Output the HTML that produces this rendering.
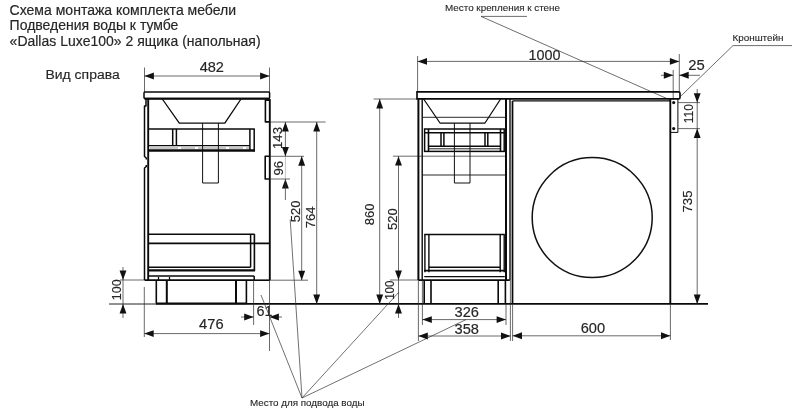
<!DOCTYPE html>
<html><head><meta charset="utf-8"><title>Схема монтажа</title>
<style>
html,body{margin:0;padding:0;background:#fff;}
svg{display:block;font-family:"Liberation Sans",sans-serif;filter:grayscale(1);}
</style></head><body>
<svg width="800" height="412" viewBox="0 0 800 412">
<rect width="800" height="412" fill="#fff"/>
<text x="9.6" y="14.6" font-size="14" fill="#262626" stroke="#262626" stroke-width="0.17" textLength="226.5" lengthAdjust="spacingAndGlyphs">Схема монтажа комплекта мебели</text>
<text x="9.6" y="30.3" font-size="14" fill="#262626" stroke="#262626" stroke-width="0.17" textLength="168.8" lengthAdjust="spacingAndGlyphs">Подведения воды к тумбе</text>
<text x="9.6" y="46" font-size="14" fill="#262626" stroke="#262626" stroke-width="0.17" textLength="251" lengthAdjust="spacingAndGlyphs">«Dallas Luxe100» 2 ящика (напольная)</text>
<text x="45.5" y="79.1" font-size="13.7" fill="#262626" stroke="#262626" stroke-width="0.16" textLength="74.2" lengthAdjust="spacingAndGlyphs">Вид справа</text>
<line x1="144.5" y1="67.5" x2="144.5" y2="92" stroke="#303030" stroke-width="0.72"/>
<line x1="269.5" y1="67.5" x2="269.5" y2="92" stroke="#303030" stroke-width="0.72"/>
<line x1="144.5" y1="76" x2="269.5" y2="76" stroke="#303030" stroke-width="0.72"/>
<polygon points="144.5,76 153.9,72.55 153.9,79.45" fill="#111"/>
<polygon points="269.5,76 260.1,72.55 260.1,79.45" fill="#111"/>
<text x="211.8" y="72" font-size="14.1" fill="#262626" stroke="#262626" stroke-width="0.17" text-anchor="middle" textLength="24.3" lengthAdjust="spacingAndGlyphs">482</text>
<rect x="144" y="92" width="125.6" height="6.6" rx="1" fill="none" stroke="#0a0a0a" stroke-width="1.5"/>
<line x1="144.5" y1="98.7" x2="269.6" y2="98.7" stroke="#0a0a0a" stroke-width="2.0"/>
<line x1="148.2" y1="99" x2="148.2" y2="280" stroke="#0a0a0a" stroke-width="1.9"/>
<polyline points="146,99 146,106 144.5,106 144.5,156.5 146.3,158 146.3,159.5" fill="none" stroke="#0a0a0a" stroke-width="1.5" stroke-linejoin="round"/>
<polyline points="146.3,165 146.3,166.5 144.5,168 144.5,280" fill="none" stroke="#0a0a0a" stroke-width="1.5" stroke-linejoin="round"/>
<line x1="269.8" y1="99" x2="269.8" y2="280.3" stroke="#0a0a0a" stroke-width="1.88"/>
<polyline points="269.8,100.1 265.4,100.1 265.4,121.9 269.8,121.9" fill="none" stroke="#0a0a0a" stroke-width="1.6" stroke-linejoin="round"/>
<polyline points="269.8,156.3 265.2,156.3 265.2,179 269.8,179" fill="none" stroke="#0a0a0a" stroke-width="1.6" stroke-linejoin="round"/>
<polyline points="162.3,99 179.3,123.1 224.8,123.1 241,99" fill="none" stroke="#0a0a0a" stroke-width="1.3" stroke-linejoin="round"/>
<polyline points="202.6,123 202.6,183 218.4,183 218.4,123" fill="none" stroke="#111" stroke-width="1.0" stroke-linejoin="round"/>
<line x1="148.3" y1="129" x2="254.8" y2="129" stroke="#0a0a0a" stroke-width="1.7"/>
<line x1="249.9" y1="129" x2="249.9" y2="150" stroke="#0a0a0a" stroke-width="1.5"/>
<line x1="254.2" y1="129" x2="254.2" y2="151.4" stroke="#0a0a0a" stroke-width="1.5"/>
<line x1="172.7" y1="129" x2="172.7" y2="145.8" stroke="#0a0a0a" stroke-width="1.5"/>
<line x1="176.4" y1="129" x2="176.4" y2="145.8" stroke="#0a0a0a" stroke-width="1.5"/>
<line x1="148.3" y1="145.6" x2="249.9" y2="145.6" stroke="#0a0a0a" stroke-width="1.4"/>
<line x1="150" y1="148" x2="249" y2="148" stroke="#333" stroke-width="0.55" stroke-dasharray="28 3 14 3"/>
<line x1="148.3" y1="150.6" x2="254.9" y2="150.6" stroke="#0a0a0a" stroke-width="2.5"/>
<line x1="148.3" y1="234.2" x2="254.6" y2="234.2" stroke="#0a0a0a" stroke-width="1.62"/>
<line x1="148.3" y1="243.4" x2="269.8" y2="243.4" stroke="#0a0a0a" stroke-width="1.62"/>
<line x1="250.6" y1="234.2" x2="250.6" y2="267.3" stroke="#0a0a0a" stroke-width="1.5"/>
<line x1="254.4" y1="234.2" x2="254.4" y2="271" stroke="#0a0a0a" stroke-width="1.62"/>
<line x1="148.3" y1="267.2" x2="250.6" y2="267.2" stroke="#0a0a0a" stroke-width="1.5"/>
<line x1="148.3" y1="270.3" x2="255" y2="270.3" stroke="#0a0a0a" stroke-width="2.25"/>
<line x1="148.3" y1="276" x2="254.2" y2="276" stroke="#0a0a0a" stroke-width="1.5"/>
<line x1="144.5" y1="280" x2="254.2" y2="280" stroke="#0a0a0a" stroke-width="1.75"/>
<line x1="254.2" y1="276" x2="254.2" y2="280" stroke="#0a0a0a" stroke-width="1.5"/>
<line x1="253.5" y1="280.2" x2="269.8" y2="280.2" stroke="#0a0a0a" stroke-width="1.62"/>
<line x1="156.3" y1="280" x2="156.3" y2="303.5" stroke="#0a0a0a" stroke-width="1.6"/>
<line x1="166.8" y1="280" x2="166.8" y2="303.5" stroke="#0a0a0a" stroke-width="2.0"/>
<line x1="236" y1="280" x2="236" y2="303.5" stroke="#0a0a0a" stroke-width="2.0"/>
<line x1="246.4" y1="280" x2="246.4" y2="303.5" stroke="#0a0a0a" stroke-width="1.6"/>
<line x1="156.2" y1="303.4" x2="246.8" y2="303.4" stroke="#0a0a0a" stroke-width="1.7"/>
<line x1="158.5" y1="277" x2="158.5" y2="280" stroke="#0a0a0a" stroke-width="1.25"/>
<line x1="169.5" y1="277" x2="169.5" y2="280" stroke="#0a0a0a" stroke-width="1.25"/>
<line x1="109" y1="304" x2="156.3" y2="304" stroke="#222" stroke-width="1.0"/>
<line x1="156" y1="303.9" x2="708" y2="303.9" stroke="#0a0a0a" stroke-width="1.6"/>
<line x1="120" y1="280" x2="144.5" y2="280" stroke="#303030" stroke-width="0.72"/>
<line x1="123" y1="267" x2="123" y2="318" stroke="#303030" stroke-width="0.72"/>
<polygon points="123,280 119.55,270.6 126.45,270.6" fill="#111"/>
<polygon points="123,304 119.55,313.4 126.45,313.4" fill="#111"/>
<text x="0" y="0" font-size="13" fill="#262626" stroke="#262626" stroke-width="0.16" text-anchor="middle" textLength="20.8" lengthAdjust="spacingAndGlyphs" transform="translate(121 289.8) rotate(-90)">100</text>
<line x1="144.3" y1="287" x2="144.3" y2="337" stroke="#303030" stroke-width="0.72"/>
<line x1="269.5" y1="280" x2="269.5" y2="351" stroke="#303030" stroke-width="0.72"/>
<line x1="144.3" y1="333.6" x2="269.5" y2="333.6" stroke="#303030" stroke-width="0.72"/>
<polygon points="144.3,333.6 153.70000000000002,330.15000000000003 153.70000000000002,337.05" fill="#111"/>
<polygon points="269.5,333.6 260.1,330.15000000000003 260.1,337.05" fill="#111"/>
<text x="211.3" y="329" font-size="14.1" fill="#262626" stroke="#262626" stroke-width="0.17" text-anchor="middle" textLength="24.5" lengthAdjust="spacingAndGlyphs">476</text>
<line x1="253.6" y1="280" x2="253.6" y2="325" stroke="#303030" stroke-width="0.72"/>
<line x1="241" y1="317" x2="253.6" y2="317" stroke="#303030" stroke-width="0.72"/>
<line x1="269.5" y1="317" x2="282" y2="317" stroke="#303030" stroke-width="0.72"/>
<polygon points="253.6,317 244.2,313.55 244.2,320.45" fill="#111"/>
<polygon points="269.5,317 278.9,313.55 278.9,320.45" fill="#111"/>
<text x="264.6" y="315.5" font-size="14.1" fill="#262626" stroke="#262626" stroke-width="0.17" text-anchor="middle" textLength="16" lengthAdjust="spacingAndGlyphs">61</text>
<line x1="269.8" y1="122" x2="325.6" y2="122" stroke="#303030" stroke-width="0.72"/>
<line x1="269.8" y1="156.3" x2="304" y2="156.3" stroke="#303030" stroke-width="0.72"/>
<line x1="269.8" y1="179" x2="290" y2="179" stroke="#303030" stroke-width="0.72"/>
<line x1="269.8" y1="280.2" x2="308" y2="280.2" stroke="#303030" stroke-width="0.72"/>
<line x1="285.4" y1="122" x2="285.4" y2="156.3" stroke="#303030" stroke-width="0.72"/>
<polygon points="285.4,122 281.95,131.4 288.84999999999997,131.4" fill="#111"/>
<polygon points="285.4,156.3 281.95,146.9 288.84999999999997,146.9" fill="#111"/>
<text x="0" y="0" font-size="13.1" fill="#262626" stroke="#262626" stroke-width="0.16" text-anchor="middle" transform="translate(282.3 138) rotate(-90)">143</text>
<polygon points="285.4,179 281.95,188.4 288.84999999999997,188.4" fill="#111"/>
<line x1="285.4" y1="179" x2="285.4" y2="200" stroke="#303030" stroke-width="0.72"/>
<text x="0" y="0" font-size="13.1" fill="#262626" stroke="#262626" stroke-width="0.16" text-anchor="middle" transform="translate(282.8 168.3) rotate(-90)">96</text>
<line x1="285.4" y1="156.3" x2="285.4" y2="179" stroke="#888" stroke-width="0.5"/>
<line x1="301.7" y1="156.3" x2="301.7" y2="280.2" stroke="#303030" stroke-width="0.72"/>
<polygon points="301.7,156.3 298.25,165.70000000000002 305.15,165.70000000000002" fill="#111"/>
<polygon points="301.7,280.2 298.25,270.8 305.15,270.8" fill="#111"/>
<text x="0" y="0" font-size="13.1" fill="#262626" stroke="#262626" stroke-width="0.16" text-anchor="middle" transform="translate(300.3 211.3) rotate(-90)">520</text>
<line x1="316.7" y1="122" x2="316.7" y2="304" stroke="#303030" stroke-width="0.72"/>
<polygon points="316.7,122 313.25,131.4 320.15,131.4" fill="#111"/>
<polygon points="316.7,304 313.25,294.6 320.15,294.6" fill="#111"/>
<text x="0" y="0" font-size="13.1" fill="#262626" stroke="#262626" stroke-width="0.16" text-anchor="middle" transform="translate(314.8 217.3) rotate(-90)">764</text>
<line x1="373.6" y1="99" x2="417" y2="99" stroke="#303030" stroke-width="0.72"/>
<line x1="379.7" y1="99" x2="379.7" y2="304" stroke="#303030" stroke-width="0.72"/>
<polygon points="379.7,99 376.25,108.4 383.15,108.4" fill="#111"/>
<polygon points="379.7,304 376.25,294.6 383.15,294.6" fill="#111"/>
<text x="0" y="0" font-size="13.1" fill="#262626" stroke="#262626" stroke-width="0.16" text-anchor="middle" transform="translate(373.5 214.3) rotate(-90)">860</text>
<line x1="393" y1="156.2" x2="506" y2="156.2" stroke="#303030" stroke-width="0.72"/>
<line x1="398.5" y1="156.2" x2="398.5" y2="280" stroke="#303030" stroke-width="0.72"/>
<polygon points="398.5,156.2 395.05,165.6 401.95,165.6" fill="#111"/>
<polygon points="398.5,280 395.05,270.6 401.95,270.6" fill="#111"/>
<text x="0" y="0" font-size="13.1" fill="#262626" stroke="#262626" stroke-width="0.16" text-anchor="middle" transform="translate(396.8 219.2) rotate(-90)">520</text>
<line x1="390" y1="280" x2="418.4" y2="280" stroke="#303030" stroke-width="0.72"/>
<line x1="398.5" y1="280" x2="398.5" y2="318" stroke="#303030" stroke-width="0.72"/>
<polygon points="398.5,304 395.05,313.4 401.95,313.4" fill="#111"/>
<text x="0" y="0" font-size="13" fill="#262626" stroke="#262626" stroke-width="0.16" text-anchor="middle" textLength="19.2" lengthAdjust="spacingAndGlyphs" transform="translate(394.4 290.2) rotate(-90)">100</text>
<line x1="261" y1="295" x2="302" y2="398" stroke="#333" stroke-width="0.7"/>
<line x1="290.2" y1="219.5" x2="302" y2="398" stroke="#333" stroke-width="0.7"/>
<line x1="399" y1="292" x2="302" y2="398" stroke="#333" stroke-width="0.7"/>
<line x1="466" y1="319.6" x2="302" y2="398" stroke="#333" stroke-width="0.7"/>
<text x="250" y="406" font-size="9.9" fill="#262626" stroke="#262626" stroke-width="0.12" textLength="114.5" lengthAdjust="spacingAndGlyphs">Место для подвода воды</text>
<line x1="417.6" y1="56" x2="417.6" y2="92" stroke="#303030" stroke-width="0.72"/>
<line x1="679.3" y1="54" x2="679.3" y2="92" stroke="#303030" stroke-width="0.72"/>
<line x1="417.6" y1="61.4" x2="679.3" y2="61.4" stroke="#303030" stroke-width="0.72"/>
<polygon points="417.6,61.4 427.0,57.949999999999996 427.0,64.85" fill="#111"/>
<polygon points="679.3,61.4 669.9,57.949999999999996 669.9,64.85" fill="#111"/>
<text x="544.5" y="59.6" font-size="14.1" fill="#262626" stroke="#262626" stroke-width="0.17" text-anchor="middle" textLength="32" lengthAdjust="spacingAndGlyphs">1000</text>
<line x1="673.2" y1="70" x2="673.2" y2="100" stroke="#303030" stroke-width="0.72"/>
<line x1="661" y1="75.3" x2="673.2" y2="75.3" stroke="#303030" stroke-width="0.72"/>
<line x1="679.3" y1="75.3" x2="700" y2="75.3" stroke="#303030" stroke-width="0.72"/>
<polygon points="673.2,75.3 663.8000000000001,71.85 663.8000000000001,78.75" fill="#111"/>
<polygon points="679.3,75.3 688.6999999999999,71.85 688.6999999999999,78.75" fill="#111"/>
<text x="696.4" y="70.2" font-size="14.1" fill="#262626" stroke="#262626" stroke-width="0.17" text-anchor="middle" textLength="16.5" lengthAdjust="spacingAndGlyphs">25</text>
<text x="445" y="11" font-size="9.9" fill="#262626" stroke="#262626" stroke-width="0.12" textLength="115" lengthAdjust="spacingAndGlyphs">Место крепления к стене</text>
<line x1="481" y1="16.4" x2="527" y2="16.4" stroke="#303030" stroke-width="0.7"/>
<line x1="481" y1="16.4" x2="668.5" y2="99.3" stroke="#303030" stroke-width="0.7"/>
<text x="732.4" y="41" font-size="9.9" fill="#262626" stroke="#262626" stroke-width="0.12" textLength="51.2" lengthAdjust="spacingAndGlyphs">Кронштейн</text>
<line x1="733" y1="45.6" x2="792" y2="45.6" stroke="#303030" stroke-width="0.7"/>
<line x1="733" y1="45.6" x2="680.6" y2="96.3" stroke="#303030" stroke-width="0.7"/>
<path d="M417,91.8 H678.5 Q680,91.8 680,93.3 V97.4 Q680,98.9 678.5,98.9 H417 Z" fill="none" stroke="#0a0a0a" stroke-width="1.65"/>
<line x1="418.4" y1="99" x2="418.4" y2="280" stroke="#0a0a0a" stroke-width="2.0"/>
<line x1="422.2" y1="99" x2="422.2" y2="280" stroke="#0a0a0a" stroke-width="1.4"/>
<line x1="506" y1="99" x2="506" y2="280" stroke="#0a0a0a" stroke-width="2.0"/>
<line x1="510" y1="99" x2="510" y2="280" stroke="#0a0a0a" stroke-width="1.4"/>
<polyline points="423.6,99 440,123 485,123 500.6,99" fill="none" stroke="#0a0a0a" stroke-width="1.25" stroke-linejoin="round"/>
<line x1="422.3" y1="117.3" x2="505.8" y2="117.3" stroke="#111" stroke-width="0.9"/>
<polyline points="454.4,123 454.4,183 470,183 470,123" fill="none" stroke="#111" stroke-width="1.0" stroke-linejoin="round"/>
<rect x="424.6" y="129" width="79.6" height="22.4" fill="none" stroke="#0a0a0a" stroke-width="1.5"/>
<line x1="424.6" y1="132.8" x2="504.2" y2="132.8" stroke="#0a0a0a" stroke-width="1.5"/>
<line x1="428.5" y1="129" x2="428.5" y2="151.4" stroke="#0a0a0a" stroke-width="1.6"/>
<line x1="500.5" y1="129" x2="500.5" y2="151.4" stroke="#0a0a0a" stroke-width="1.6"/>
<line x1="441" y1="132.8" x2="441" y2="146.3" stroke="#0a0a0a" stroke-width="1.5"/>
<line x1="443.9" y1="132.8" x2="443.9" y2="146.3" stroke="#0a0a0a" stroke-width="1.5"/>
<line x1="485" y1="132.8" x2="485" y2="146.3" stroke="#0a0a0a" stroke-width="1.5"/>
<line x1="487.8" y1="132.8" x2="487.8" y2="146.3" stroke="#0a0a0a" stroke-width="1.5"/>
<line x1="428.5" y1="146.3" x2="500.5" y2="146.3" stroke="#0a0a0a" stroke-width="1.4"/>
<line x1="428.5" y1="148.8" x2="500.5" y2="148.8" stroke="#0a0a0a" stroke-width="0.9"/>
<line x1="422.3" y1="175" x2="505.8" y2="175" stroke="#111" stroke-width="0.9"/>
<line x1="424.2" y1="234.5" x2="504.8" y2="234.5" stroke="#0a0a0a" stroke-width="1.7"/>
<line x1="424.9" y1="234.5" x2="424.9" y2="272.3" stroke="#0a0a0a" stroke-width="1.4"/>
<line x1="428.9" y1="234.5" x2="428.9" y2="272.3" stroke="#0a0a0a" stroke-width="1.4"/>
<line x1="500.2" y1="234.5" x2="500.2" y2="272.3" stroke="#0a0a0a" stroke-width="1.4"/>
<line x1="504.2" y1="234.5" x2="504.2" y2="272.3" stroke="#0a0a0a" stroke-width="1.4"/>
<line x1="428.9" y1="267.3" x2="500.2" y2="267.3" stroke="#0a0a0a" stroke-width="1.6"/>
<line x1="424.2" y1="270.6" x2="504.8" y2="270.6" stroke="#0a0a0a" stroke-width="1.7"/>
<line x1="424.2" y1="276.6" x2="504.8" y2="276.6" stroke="#0a0a0a" stroke-width="1.4"/>
<line x1="418.5" y1="280.1" x2="509.8" y2="280.1" stroke="#0a0a0a" stroke-width="1.7"/>
<line x1="424.2" y1="280" x2="424.2" y2="304" stroke="#0a0a0a" stroke-width="1.62"/>
<line x1="431" y1="280" x2="431" y2="304" stroke="#0a0a0a" stroke-width="1.62"/>
<line x1="498.2" y1="280" x2="498.2" y2="304" stroke="#0a0a0a" stroke-width="1.62"/>
<line x1="505.4" y1="280" x2="505.4" y2="304" stroke="#0a0a0a" stroke-width="1.62"/>
<line x1="512.5" y1="101" x2="512.5" y2="304" stroke="#0a0a0a" stroke-width="1.75"/>
<line x1="512.5" y1="100.9" x2="670" y2="100.9" stroke="#0a0a0a" stroke-width="1.1"/>
<line x1="670.3" y1="99" x2="670.3" y2="304" stroke="#0a0a0a" stroke-width="1.88"/>
<circle cx="592.2" cy="217.6" r="60" fill="none" stroke="#111" stroke-width="1.5"/>
<polyline points="670.3,132.4 677.9,132.4 677.9,99" fill="none" stroke="#0a0a0a" stroke-width="1.0" stroke-linejoin="round"/>
<circle cx="673.7" cy="102.6" r="1.6" fill="#111"/><circle cx="673.7" cy="128.6" r="1.6" fill="#111"/>
<line x1="678" y1="102.6" x2="700" y2="102.6" stroke="#303030" stroke-width="0.72"/>
<line x1="678" y1="128.6" x2="700" y2="128.6" stroke="#303030" stroke-width="0.72"/>
<line x1="697.2" y1="89" x2="697.2" y2="128.6" stroke="#303030" stroke-width="0.72"/>
<polygon points="697.2,102.6 693.75,93.19999999999999 700.6500000000001,93.19999999999999" fill="#111"/>
<line x1="697.2" y1="128.6" x2="697.2" y2="304" stroke="#303030" stroke-width="0.72"/>
<polygon points="697.2,128.6 693.75,138.0 700.6500000000001,138.0" fill="#111"/>
<polygon points="697.2,304 693.75,294.6 700.6500000000001,294.6" fill="#111"/>
<text x="0" y="0" font-size="13" fill="#262626" stroke="#262626" stroke-width="0.16" text-anchor="middle" textLength="19.2" lengthAdjust="spacingAndGlyphs" transform="translate(693 113.6) rotate(-90)">110</text>
<text x="0" y="0" font-size="13.1" fill="#262626" stroke="#262626" stroke-width="0.16" text-anchor="middle" transform="translate(691.7 201.5) rotate(-90)">735</text>
<line x1="422.4" y1="280" x2="422.4" y2="325" stroke="#303030" stroke-width="0.72"/>
<line x1="506" y1="304" x2="506" y2="325" stroke="#303030" stroke-width="0.72"/>
<line x1="422.4" y1="319.6" x2="506" y2="319.6" stroke="#303030" stroke-width="0.72"/>
<polygon points="422.4,319.6 431.79999999999995,316.15000000000003 431.79999999999995,323.05" fill="#111"/>
<polygon points="506,319.6 496.6,316.15000000000003 496.6,323.05" fill="#111"/>
<text x="466.7" y="317.3" font-size="14.1" fill="#262626" stroke="#262626" stroke-width="0.17" text-anchor="middle" textLength="24.4" lengthAdjust="spacingAndGlyphs">326</text>
<line x1="418.4" y1="280" x2="418.4" y2="341" stroke="#303030" stroke-width="0.72"/>
<line x1="510.4" y1="280" x2="510.4" y2="341" stroke="#303030" stroke-width="0.72"/>
<line x1="512.6" y1="304" x2="512.6" y2="341" stroke="#303030" stroke-width="0.72"/>
<line x1="418.4" y1="336" x2="510.4" y2="336" stroke="#303030" stroke-width="0.72"/>
<polygon points="418.4,336 427.79999999999995,332.55 427.79999999999995,339.45" fill="#111"/>
<polygon points="510.4,336 501.0,332.55 501.0,339.45" fill="#111"/>
<text x="466.7" y="333.7" font-size="14.1" fill="#262626" stroke="#262626" stroke-width="0.17" text-anchor="middle" textLength="24.4" lengthAdjust="spacingAndGlyphs">358</text>
<line x1="670.4" y1="304" x2="670.4" y2="340" stroke="#303030" stroke-width="0.72"/>
<line x1="512.6" y1="335.8" x2="670.4" y2="335.8" stroke="#303030" stroke-width="0.72"/>
<polygon points="512.6,335.8 522.0,332.35 522.0,339.25" fill="#111"/>
<polygon points="670.4,335.8 661.0,332.35 661.0,339.25" fill="#111"/>
<text x="592.9" y="332.8" font-size="14.1" fill="#262626" stroke="#262626" stroke-width="0.17" text-anchor="middle" textLength="24.4" lengthAdjust="spacingAndGlyphs">600</text>
</svg>
</body></html>
